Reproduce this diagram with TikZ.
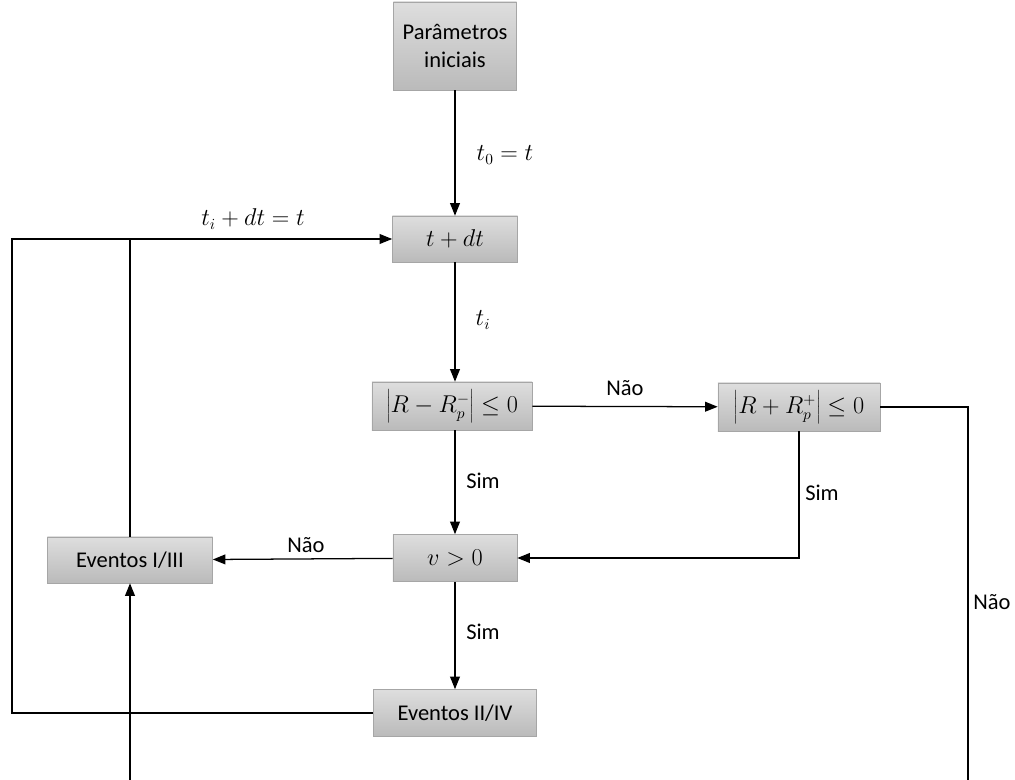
\documentclass[tikz,border=0pt]{standalone}
\usepackage{fontspec}
\setmainfont{Carlito}
\usetikzlibrary{arrows.meta}

\tikzset{
  box/.style={draw=black!35, top color=black!13, bottom color=black!27,
    font=\fontsize{16}{20}\selectfont, align=center, inner sep=2pt},
  arr/.style={-{Triangle[length=9pt,width=7pt]}, line width=0.9pt},
  lbl/.style={font=\fontsize{16}{20}\selectfont, inner sep=1pt}
}

\begin{document}
\begin{tikzpicture}[x=0.025cm, y=-0.025cm]
% Set the frame (pixel units)
\useasboundingbox (0,0) rectangle (1015,780);
\clip (0,0) rectangle (1015,780);

% Boxes
\node[box, minimum width=3.075cm, minimum height=2.2cm] (par) at (455,46) {Parâmetros\\iniciais};
\node[box, minimum width=3.125cm, minimum height=1.15cm] (tdt) at (455,239) {$t+dt$};
\node[box, minimum width=4cm, minimum height=1.2cm] (rmin) at (452,406) {$\left|R-R_p^-\right|\leq 0$};
\node[box, minimum width=4.05cm, minimum height=1.2cm] (rplus) at (799,407) {$\left|R+R_p^+\right|\leq 0$};
\node[box, minimum width=3.1cm, minimum height=1.175cm] (vpos) at (455,558) {$v>0$};
\node[box, minimum width=4.125cm, minimum height=1.15cm] (ev13) at (130,560) {Eventos I/III};
\node[box, minimum width=4.075cm, minimum height=1.175cm] (ev24) at (455,713) {Eventos II/IV};

% Free corners
\coordinate (lcorner) at (12,713);
\coordinate (rcorner) at (968,830);

% Connectors
\draw[arr] (par) -- (tdt);
\draw[arr] (tdt) -- (tdt |- rmin.north);
\draw[arr] (rmin) -- (rplus);
\draw[arr] (rmin.south -| vpos) -- (vpos);
\draw[arr] (rplus.south) |- (vpos.east);
\draw[arr] (vpos) -- (ev13);
\draw[arr] (vpos) -- (ev24);
\draw[arr] (ev24.west) -- (lcorner) |- (tdt.west);
\draw[line width=0.9pt] (ev13.north) -- (ev13.north |- tdt.west);
\draw[arr] (rplus.east) -| (rcorner) -| (ev13.south);

% Labels
\node[lbl] (l1) at (505,155) {$t_0=t$};
\node[lbl] (l2) at (483,320) {$t_i$};
\node[lbl] (l3) at (625,388) {Não};
\node[lbl] (l4) at (483,481) {Sim};
\node[lbl] (l5) at (822,493) {Sim};
\node[lbl] (l6) at (306,545) {Não};
\node[lbl] (l7) at (483,632) {Sim};
\node[lbl] (l8) at (253,219) {$t_i+dt=t$};
\node[lbl] (l9) at (992,602) {Não};
\end{tikzpicture}
\end{document}
